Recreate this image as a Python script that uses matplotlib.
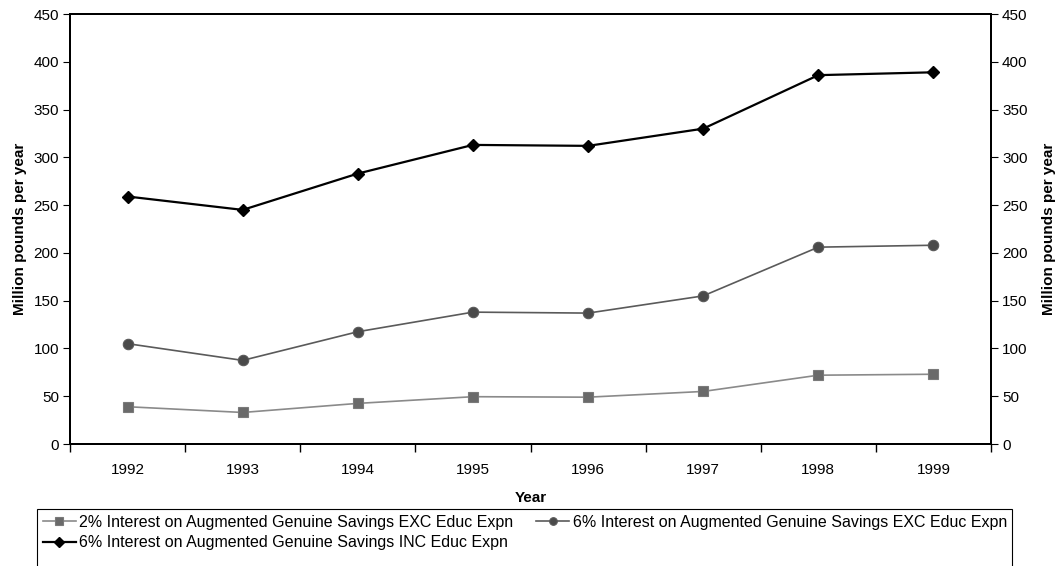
import matplotlib
matplotlib.use("Agg")
import matplotlib.pyplot as plt
from matplotlib.patches import Rectangle
import numpy as np

plt.rcParams['font.family'] = ['Liberation Sans', 'DejaVu Sans']

years = ["1992", "1993", "1994", "1995", "1996", "1997", "1998", "1999"]
exc_2pct = [39, 33, 42.5, 49.5, 49, 55, 72, 73]
exc_6pct = [105, 87.5, 117.5, 138, 137, 155, 206, 208]
inc_6pct = [259, 245, 283, 313, 312, 330, 386, 389]

series_labels = [
    "2% Interest on Augmented Genuine Savings EXC Educ Expn",
    "6% Interest on Augmented Genuine Savings EXC Educ Expn",
    "6% Interest on Augmented Genuine Savings INC Educ Expn",
]

fig = plt.figure(figsize=(10.57, 5.66), dpi=100)
ax = fig.add_axes([70 / 1057, 1 - 444 / 566, (991 - 70) / 1057, (444 - 14) / 566])

x = np.arange(len(years))
l1, = ax.plot(x, exc_2pct, color="#8a8a8a", lw=1.2, marker="s", ms=7.5,
              mfc="#6a6a6a", mec="#7a7a7a", mew=0.8)
l2, = ax.plot(x, exc_6pct, color="#5a5a5a", lw=1.2, marker="o", ms=7.5,
              mfc="#4a4a4a", mec="#5a5a5a", mew=0.8)
l3, = ax.plot(x, inc_6pct, color="black", lw=1.6, marker="D", ms=6.5,
              mfc="black", mec="black")

ax.set_xlim(-0.5, len(years) - 0.5)
ax.set_ylim(0, 450)
ax.set_yticks(np.arange(0, 451, 50))
ax.set_xticks(x)
ax.set_xticklabels(years, fontsize=11)
ax.set_xticks(np.arange(-0.5, len(years) - 0.4, 1), minor=True)
ax.tick_params(axis="x", which="major", length=0, pad=14)
ax.tick_params(axis="x", which="minor", length=6, width=1, direction="out")
ax.tick_params(axis="y", labelsize=11, length=5, width=0.8, direction="out", pad=3)

for s in ax.spines.values():
    s.set_linewidth(1.4)
    s.set_color("black")

ax.set_xlabel("Year", fontsize=11, fontweight="bold", labelpad=10)
ax.set_ylabel("Million pounds per year", fontsize=11, fontweight="bold", labelpad=4.5)

ax2 = ax.twinx()
ax2.set_ylim(ax.get_ylim())
ax2.set_yticks(np.arange(0, 451, 50))
ax2.tick_params(axis="y", labelsize=11, length=5, width=0.8, direction="out", pad=3)
ax2.set_ylabel("Million pounds per year", fontsize=11, fontweight="bold", labelpad=10)
for s in ax2.spines.values():
    s.set_linewidth(1.4)

# two columns filled row by row: first row holds the two EXC series
handles = [l1, l3, l2]
labels = [series_labels[0], series_labels[2], series_labels[1]]
leg = fig.legend(handles, labels, loc="upper left",
                 bbox_to_anchor=(37 / 1057, 1 - 509 / 566), ncol=2,
                 fontsize=11.5, frameon=False,
                 handlelength=2.1, handletextpad=0.2, columnspacing=1.4,
                 borderpad=0.35, labelspacing=0.35, borderaxespad=0)
for h in leg.legend_handles:
    h.set_markersize(5.5)

# legend box runs off the lower edge of the figure
fig.canvas.draw()
bb = leg.get_window_extent().transformed(fig.transFigure.inverted())
fig.add_artist(Rectangle((bb.x0, -0.05), bb.width, bb.y1 + 0.05,
                         transform=fig.transFigure, fill=False,
                         edgecolor="black", linewidth=0.8))

fig.savefig("out.png", dpi=100)
